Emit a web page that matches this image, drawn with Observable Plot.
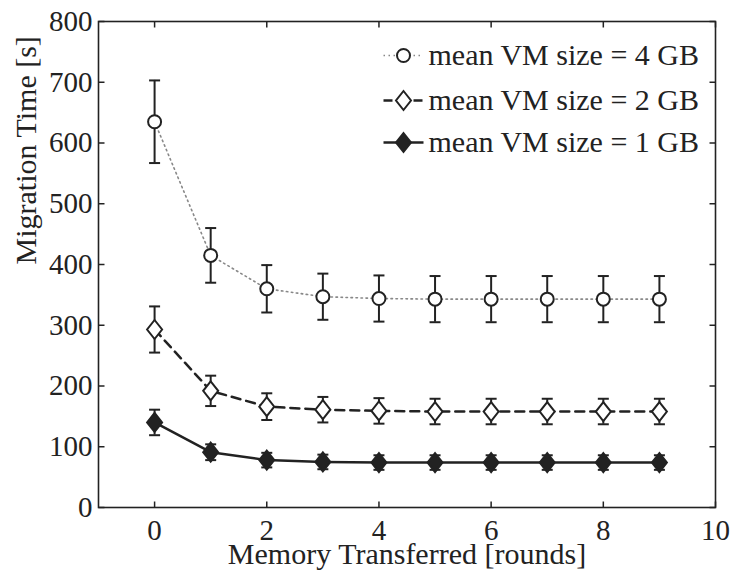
<!DOCTYPE html>
<html><head><meta charset="utf-8">
<script src="https://cdn.jsdelivr.net/npm/d3@7"></script>
<script src="https://cdn.jsdelivr.net/npm/@observablehq/plot@0.6"></script>
<style>
body{margin:0;background:#fff;}
svg, svg text { font-family: "Liberation Serif", "DejaVu Serif", serif !important; }
</style>
</head><body><div id="chart"></div>
<script>
// ---- data ----
const rounds = [0, 1, 2, 3, 4, 5, 6, 7, 8, 9];
const mean4GB = [635, 415, 360, 347, 344, 343, 343, 343, 343, 343];
const err4GB  = [68, 45, 39, 38, 38, 38, 38, 38, 38, 38];
const mean2GB = [293, 192, 166, 161, 159, 158, 158, 158, 158, 158];
const err2GB  = [38, 25, 22, 21, 21, 21, 21, 21, 21, 21];
const mean1GB = [140, 91, 78, 75, 74, 74, 74, 74, 74, 74];
const err1GB  = [21, 13, 12, 12, 12, 12, 12, 12, 12, 12];
const seriesLabels = ["mean VM size = 4 GB", "mean VM size = 2 GB", "mean VM size = 1 GB"];
const xTicks = [0, 2, 4, 6, 8, 10];
const yTicks = [0, 100, 200, 300, 400, 500, 600, 700, 800];
const xLabel = "Memory Transferred [rounds]";
const yLabel = "Migration Time [s]";

// ---- styles ----
const ink = "#222";
const serif = "Liberation Serif";
const tallDiamond = {draw(c) { c.moveTo(0, -9.5); c.lineTo(7.5, 0); c.lineTo(0, 9.5); c.lineTo(-7.5, 0); c.closePath(); }};
const cap = {draw(c) { c.moveTo(-5.5, 0); c.lineTo(5.5, 0); }};
const legendLine = {draw(c) { c.moveTo(-20, 0); c.lineTo(20, 0); }};
const tickUp = {draw(c) { c.moveTo(0, 0); c.lineTo(0, -6); }};
const tickDown = {draw(c) { c.moveTo(0, 0); c.lineTo(0, 6); }};
const tickRight = {draw(c) { c.moveTo(0, 0); c.lineTo(6, 0); }};
const tickLeft = {draw(c) { c.moveTo(0, 0); c.lineTo(-6, 0); }};

const series = [
  {label: seriesLabels[0], mean: mean4GB, err: err4GB, lineStroke: "#888", dash: "1.5,3.5", lineWidth: 1.6, symbol: "circle", fill: "white", r: 6.5},
  {label: seriesLabels[1], mean: mean2GB, err: err2GB, lineStroke: ink, dash: "9,6", lineWidth: 2.5, symbol: tallDiamond, fill: "white", r: 7},
  {label: seriesLabels[2], mean: mean1GB, err: err1GB, lineStroke: ink, dash: null, lineWidth: 2.5, symbol: tallDiamond, fill: ink, r: 7}
];
const legendDy = [34, 79, 121];

const marks = [];
// inward ticks on all four sides
marks.push(Plot.dot(xTicks, {x: d => d, frameAnchor: "bottom", symbol: tickUp, stroke: ink, strokeWidth: 1.5}));
marks.push(Plot.dot(xTicks, {x: d => d, frameAnchor: "top", symbol: tickDown, stroke: ink, strokeWidth: 1.5}));
marks.push(Plot.dot(yTicks, {y: d => d, frameAnchor: "left", symbol: tickRight, stroke: ink, strokeWidth: 1.5}));
marks.push(Plot.dot(yTicks, {y: d => d, frameAnchor: "right", symbol: tickLeft, stroke: ink, strokeWidth: 1.5}));
marks.push(Plot.frame({stroke: ink, strokeWidth: 1.6}));
marks.push(Plot.axisX(xTicks, {tickSize: 0, tickPadding: 12, label: null, fill: ink, fontFamily: serif, fontSize: 29}));
marks.push(Plot.axisY(yTicks, {tickSize: 0, tickPadding: 6, label: null, fill: ink, fontFamily: serif, fontSize: 29}));

series.forEach((s, i) => {
  const rows = rounds.map((x, j) => ({x, y: s.mean[j], lo: s.mean[j] - s.err[j], hi: s.mean[j] + s.err[j]}));
  marks.push(Plot.line(rows, {x: "x", y: "y", stroke: s.lineStroke, strokeWidth: s.lineWidth, strokeDasharray: s.dash}));
  marks.push(Plot.ruleX(rows, {x: "x", y1: "lo", y2: "hi", stroke: ink, strokeWidth: 2}));
  marks.push(Plot.dot(rows, {x: "x", y: "lo", symbol: cap, stroke: ink, strokeWidth: 2}));
  marks.push(Plot.dot(rows, {x: "x", y: "hi", symbol: cap, stroke: ink, strokeWidth: 2}));
  marks.push(Plot.dot(rows, {x: "x", y: "y", symbol: s.symbol, r: s.r, fill: s.fill, stroke: ink, strokeWidth: 2}));
  // legend
  marks.push(Plot.dot([s.label], {frameAnchor: "top-left", dx: 305, dy: legendDy[i], symbol: legendLine, stroke: s.lineStroke, strokeWidth: s.lineWidth, strokeDasharray: s.dash}));
  marks.push(Plot.dot([s.label], {frameAnchor: "top-left", dx: 305, dy: legendDy[i], symbol: s.symbol, r: s.r, fill: s.fill, stroke: ink, strokeWidth: 2}));
  marks.push(Plot.text([s.label], {text: d => d, frameAnchor: "top-left", lineAnchor: "middle", dx: 330, dy: legendDy[i], textAnchor: "start", fill: ink, fontFamily: serif, fontSize: 30}));
});

marks.push(Plot.text([xLabel], {text: d => d, frameAnchor: "bottom", lineAnchor: "middle", dy: 47, fill: ink, fontFamily: serif, fontSize: 30}));
marks.push(Plot.text([yLabel], {text: d => d, frameAnchor: "left", lineAnchor: "middle", rotate: -90, dx: -72, fill: ink, fontFamily: serif, fontSize: 30}));

const chart = Plot.plot({
  width: 732,
  height: 571,
  marginLeft: 98,
  marginRight: 17,
  marginTop: 21,
  marginBottom: 64,
  x: {domain: [-1, 10]},
  y: {domain: [0, 800]},
  style: {fontSize: "30px", color: ink, background: "white"},
  marks
});
document.getElementById("chart").append(chart);
</script>
</body></html>
